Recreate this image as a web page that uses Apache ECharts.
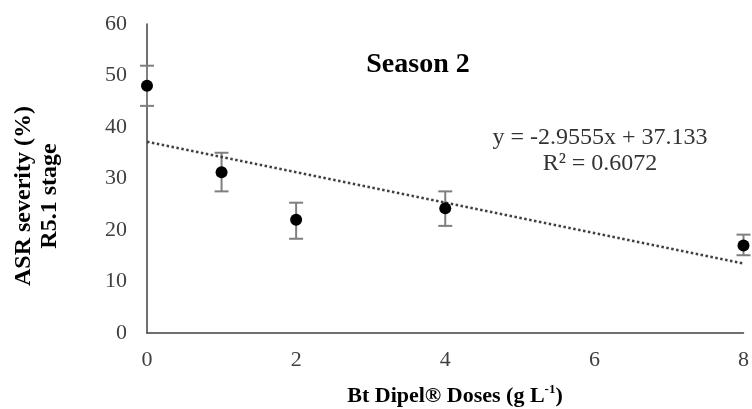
<!DOCTYPE html>
<html>
<head>
<meta charset="utf-8">
<script src="https://cdn.jsdelivr.net/npm/echarts@6/dist/echarts.min.js"></script>
<style>
html,body{margin:0;padding:0;background:#fff;}
#c{width:752px;height:409px;}
</style>
</head>
<body>
<div id="c"></div>
<script>
// Data
var doses = [0, 1, 2, 4, 8];
var severity = [48.0, 31.2, 22.0, 24.2, 17.0];
var errLow = [44.1, 27.5, 18.3, 20.8, 15.1];
var errHigh = [51.9, 35.0, 25.3, 27.5, 19.1];
var trendX = [0, 8];
var trendY = [37.133, 13.489];
var xTicks = [0, 2, 4, 6, 8];
var yTicks = [0, 10, 20, 30, 40, 50, 60];

var serif = '"Liberation Serif", "Times New Roman", serif';

var points = doses.map(function (d, i) { return [d, severity[i]]; });
var bars = doses.map(function (d, i) { return [d, errLow[i], errHigh[i]]; });
var trend = trendX.map(function (d, i) { return [d, trendY[i]]; });

var chart = echarts.init(document.getElementById('c'));
chart.setOption({
  animation: false,
  backgroundColor: '#fff',
  grid: { left: 147, right: 5, top: 24, bottom: 76 },
  xAxis: {
    type: 'value', min: xTicks[0], max: xTicks[xTicks.length - 1], interval: 2,
    axisLine: { show: true, onZero: false, lineStyle: { color: '#404040', width: 1.5 } },
    axisTick: { show: false },
    splitLine: { show: false },
    axisLabel: { fontFamily: serif, fontSize: 22, color: '#404040', margin: 16 }
  },
  yAxis: {
    type: 'value', min: yTicks[0], max: yTicks[yTicks.length - 1], interval: 10,
    axisLine: { show: true, lineStyle: { color: '#404040', width: 1.5 } },
    axisTick: { show: false },
    splitLine: { show: false },
    axisLabel: { fontFamily: serif, fontSize: 22, color: '#404040', margin: 20 }
  },
  graphic: [
    { type: 'text', x: 418, y: 65,
      style: { text: 'Season 2', fontFamily: serif, fontSize: 28, fontWeight: 'bold', fill: '#000', align: 'center', verticalAlign: 'middle' } },
    { type: 'text', x: 600, y: 151,
      style: { text: 'y = -2.9555x + 37.133\nR² = 0.6072', fontFamily: serif, fontSize: 24, lineHeight: 26, fill: '#333', align: 'center', verticalAlign: 'middle' } },
    { type: 'text', x: 37, y: 196, rotation: Math.PI / 2,
      style: { text: 'ASR severity (%)\nR5.1 stage', fontFamily: serif, fontSize: 24, fontWeight: 'bold', lineHeight: 26, fill: '#000', align: 'center', verticalAlign: 'middle' } },
    { type: 'text', x: 455, y: 396,
      style: {
        text: '{a|Bt Dipel® Doses (g L}{s|-1}{a|)}',
        align: 'center', verticalAlign: 'middle',
        rich: {
          a: { fontFamily: serif, fontSize: 22, fontWeight: 'bold', fill: '#000', lineHeight: 26 },
          s: { fontFamily: serif, fontSize: 13, fontWeight: 'bold', fill: '#000', lineHeight: 14, verticalAlign: 'top' }
        }
      } }
  ],
  series: [
    {
      type: 'custom',
      data: bars,
      z: 2,
      renderItem: function (params, api) {
        var x = api.value(0);
        var lo = api.coord([x, api.value(1)]);
        var hi = api.coord([x, api.value(2)]);
        var w = 7;
        var st = { stroke: '#7f7f7f', lineWidth: 2, fill: null };
        return {
          type: 'group',
          children: [
            { type: 'line', shape: { x1: lo[0], y1: lo[1], x2: hi[0], y2: hi[1] }, style: st },
            { type: 'line', shape: { x1: lo[0] - w, y1: lo[1], x2: lo[0] + w, y2: lo[1] }, style: st },
            { type: 'line', shape: { x1: hi[0] - w, y1: hi[1], x2: hi[0] + w, y2: hi[1] }, style: st }
          ]
        };
      }
    },
    {
      type: 'line',
      data: trend,
      symbol: 'none',
      z: 3,
      lineStyle: { color: '#404040', width: 2.5, type: [2.5, 2.5] }
    },
    {
      type: 'scatter',
      data: points,
      symbol: 'circle',
      symbolSize: 12,
      z: 4,
      itemStyle: { color: '#000', opacity: 1 }
    }
  ]
});
</script>
</body>
</html>
